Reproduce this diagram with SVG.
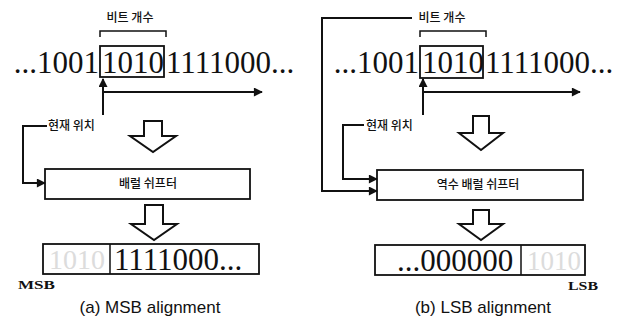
<svg xmlns="http://www.w3.org/2000/svg" width="621" height="324" viewBox="0 0 621 324">
  <style>
    .bits { font-family: "Liberation Serif", "Times New Roman", serif; font-size: 31px; fill: #111; }
    .ghost { font-family: "Liberation Serif", "Times New Roman", serif; font-size: 28px; fill: #dcdcdc; }
    .kr { font-family: "Noto Sans CJK KR", "Noto Sans", sans-serif; font-size: 12px; font-weight: 500; fill: #111; }
    .tag { font-family: "Liberation Serif", "Times New Roman", serif; font-size: 12px; font-weight: bold; fill: #111; }
    .cap { font-family: "Liberation Sans", Arial, sans-serif; font-size: 17px; fill: #111; }
    .box { fill: #fff; stroke: #111; stroke-width: 1.8; }
    .line { fill: none; stroke: #111; stroke-width: 2; }
    .thin { fill: none; stroke: #111; stroke-width: 1.5; }
    .block { fill: #fff; stroke: #111; stroke-width: 2; stroke-linejoin: miter; }
  </style>
  <defs>
    <marker id="head" viewBox="0 0 10 10" refX="9" refY="5" markerWidth="5" markerHeight="4.5" orient="auto" markerUnits="strokeWidth">
      <path d="M0,0 L10,5 L0,10 z" fill="#111"/>
    </marker>
  </defs>

  <!-- (a) MSB alignment -->
  <g id="a-bitcount">
    <text class="kr" x="130" y="22" text-anchor="middle">비트 개수</text>
    <path class="thin" d="M100,37 V31 H166 V37"/>
  </g>
  <g id="a-stream">
    <text class="bits" x="99" y="73" text-anchor="end">...1001</text>
    <rect class="box" x="100" y="46" width="64" height="31" fill="none"/>
    <text class="bits" x="102" y="73">1010</text>
    <text class="bits" x="166" y="73">1111000...</text>
  </g>
  <g id="a-position">
    <text class="kr" x="48" y="130">현재 위치</text>
  </g>
  <g id="a-down1">
    <path class="block" d="M144,121 H162 V136 H176 L153,152 L130,136 H144 Z"/>
  </g>
  <g id="a-shifter">
    <rect class="box" x="45" y="169" width="205" height="30"/>
    <text class="kr" x="148" y="188" text-anchor="middle">배럴 쉬프터</text>
  </g>
  <g id="a-down2">
    <path class="block" d="M145,205 H163 V224 H177 L154,240 L131,224 H145 Z"/>
  </g>
  <g id="a-result">
    <rect class="box" x="43" y="244" width="216" height="30"/>
    <line class="thin" x1="110" y1="244" x2="110" y2="274"/>
    <text class="ghost" x="49" y="269" textLength="56" lengthAdjust="spacingAndGlyphs">1010</text>
    <text class="bits" x="114" y="270">1111000...</text>
    <text class="tag" x="18" y="289" textLength="37" lengthAdjust="spacingAndGlyphs">MSB</text>
  </g>
  <g id="a-caption">
    <text class="cap" x="150" y="313" text-anchor="middle">(a) MSB alignment</text>
  </g>

  <!-- (b) LSB alignment -->
  <g id="b-bitcount">
    <text class="kr" x="442" y="22" text-anchor="middle">비트 개수</text>
    <path class="thin" d="M420,37 V31 H486 V37"/>
  </g>
  <g id="b-stream">
    <text class="bits" x="419" y="73" text-anchor="end">...1001</text>
    <rect class="box" x="420" y="46" width="63" height="32" fill="none"/>
    <text class="bits" x="422" y="73">1010</text>
    <text class="bits" x="485" y="73">1111000...</text>
  </g>
  <g id="b-position">
    <text class="kr" x="366" y="130">현재 위치</text>
  </g>
  <g id="b-down1">
    <path class="block" d="M473,116 H489 V133 H503 L481,150 L459,133 H473 Z"/>
  </g>
  <g id="b-shifter">
    <rect class="box" x="377" y="170" width="206" height="30"/>
    <text class="kr" x="478" y="189" text-anchor="middle">역수 배럴 쉬프터</text>
  </g>
  <g id="b-down2">
    <path class="block" d="M473,210 H489 V224 H503 L481,240 L459,224 H473 Z"/>
  </g>
  <g id="b-result">
    <rect class="box" x="375" y="245" width="210" height="30"/>
    <line class="thin" x1="521" y1="245" x2="521" y2="275"/>
    <text class="bits" x="397" y="271">...000000</text>
    <text class="ghost" x="527" y="270" textLength="54" lengthAdjust="spacingAndGlyphs">1010</text>
    <text class="tag" x="568" y="290" textLength="30" lengthAdjust="spacingAndGlyphs">LSB</text>
  </g>
  <g id="b-caption">
    <text class="cap" x="483" y="313" text-anchor="middle">(b) LSB alignment</text>
  </g>

  <!-- connectors -->
  <g id="connectors">
    <line class="line" x1="103" y1="115" x2="103" y2="79" marker-end="url(#head)"/>
    <line class="line" x1="103" y1="92" x2="262" y2="92" marker-end="url(#head)"/>
    <path class="line" d="M47,126 H23 V183 H45" marker-end="url(#head)"/>

    <line class="line" x1="423" y1="115" x2="423" y2="79" marker-end="url(#head)"/>
    <line class="line" x1="423" y1="92" x2="580" y2="92" marker-end="url(#head)"/>
    <path class="line" d="M364,125 H343 V179 H377" marker-end="url(#head)"/>
    <path class="line" d="M412,18 H322 V191 H377" marker-end="url(#head)"/>
  </g>
</svg>
